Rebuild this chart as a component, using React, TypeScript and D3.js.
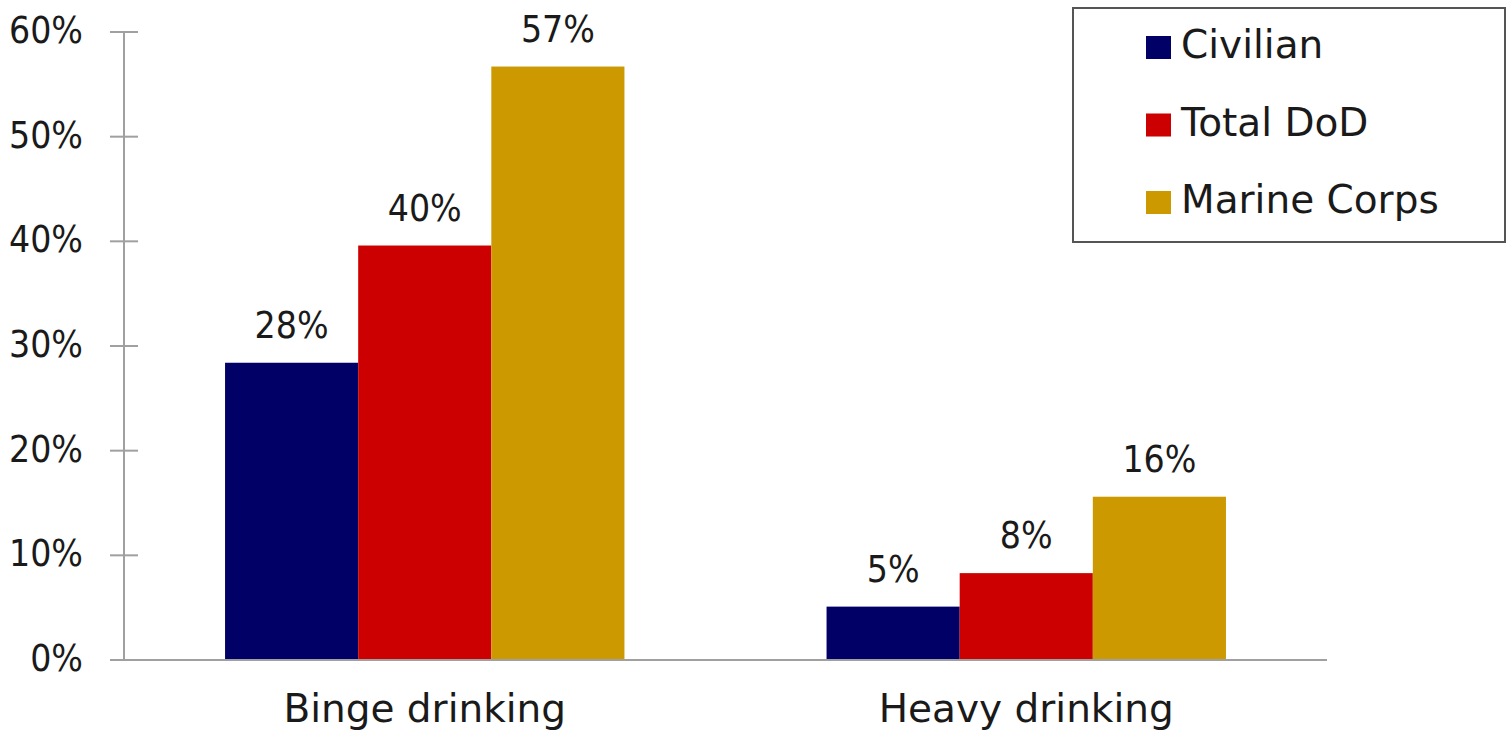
import React from "react";
import * as d3 from "d3";

const categories = ["Binge drinking", "Heavy drinking"];
const seriesNames = ["Civilian", "Total DoD", "Marine Corps"];
const seriesColors = ["#000066", "#cc0000", "#cc9900"];
// values (percent)
const civilian = [28.4, 5.1];
const totalDoD = [39.6, 8.3];
const marineCorps = [56.7, 15.6];
const valueLabels = [["28%", "5%"], ["40%", "8%"], ["57%", "16%"]];
const yTicks = [0, 10, 20, 30, 40, 50, 60];

const W = 1507;
const H = 735;
const font = "'DejaVu Sans', sans-serif";
const numFont = "'DejaVu Sans Condensed', 'DejaVu Sans', sans-serif";

export default function App() {
  const series = [civilian, totalDoD, marineCorps];
  const axisX = 124;
  const axisEnd = 1327;

  const y = d3.scaleLinear().domain([0, 60]).range([660, 32]);
  const x0 = d3.scaleBand<string>()
    .domain(categories)
    .range([axisX, axisEnd])
    .paddingInner(0.336)
    .paddingOuter(0.168);
  const x1 = d3.scaleBand<string>()
    .domain(seriesNames)
    .range([0, x0.bandwidth()]);

  return (
    <svg width={W} height={H} style={{ position: "fixed", left: 0, top: 0, background: "#fff" }}>
      {/* bars + value labels */}
      {categories.map((cat, ci) => (
        <g key={cat} transform={`translate(${x0(cat)},0)`}>
          {seriesNames.map((s, si) => {
            const v = series[si][ci];
            const bx = x1(s)!;
            return (
              <g key={s}>
                <rect x={bx} y={y(v)} width={x1.bandwidth()} height={y(0) - y(v)} fill={seriesColors[si]} />
                <text
                  x={bx + x1.bandwidth() / 2}
                  y={y(v) - 25}
                  textAnchor="middle"
                  fontFamily={numFont}
                  fontSize={37}
                  fill="#1a1a1a"
                >
                  {valueLabels[si][ci]}
                </text>
              </g>
            );
          })}
          <text
            x={x0.bandwidth() / 2}
            y={722}
            textAnchor="middle"
            fontFamily={font}
            fontSize={39}
            fill="#1a1a1a"
          >
            {cat}
          </text>
        </g>
      ))}

      {/* axes */}
      <line x1={axisX} x2={axisX} y1={y(60)} y2={y(0)} stroke="#a0a0a0" strokeWidth={2} />
      <line x1={110} x2={axisEnd} y1={y(0)} y2={y(0)} stroke="#a0a0a0" strokeWidth={2} />
      {yTicks.map((t) => (
        <g key={t}>
          <line x1={110} x2={138} y1={y(t)} y2={y(t)} stroke="#a0a0a0" strokeWidth={2} />
          <text
            x={83}
            y={y(t) + 11}
            textAnchor="end"
            fontFamily={numFont}
            fontSize={37}
            fill="#1a1a1a"
          >
            {t}%
          </text>
        </g>
      ))}

      {/* legend */}
      <rect x={1073} y={8} width={432} height={234} fill="#fff" stroke="#555" strokeWidth={2} />
      {seriesNames.map((s, i) => (
        <g key={s} transform={`translate(1146,${58 + i * 77.5})`}>
          <rect x={0} y={-22} width={25} height={23} fill={seriesColors[i]} />
          <text x={35} y={0} fontFamily={font} fontSize={39} fill="#1a1a1a">
            {s}
          </text>
        </g>
      ))}
    </svg>
  );
}
